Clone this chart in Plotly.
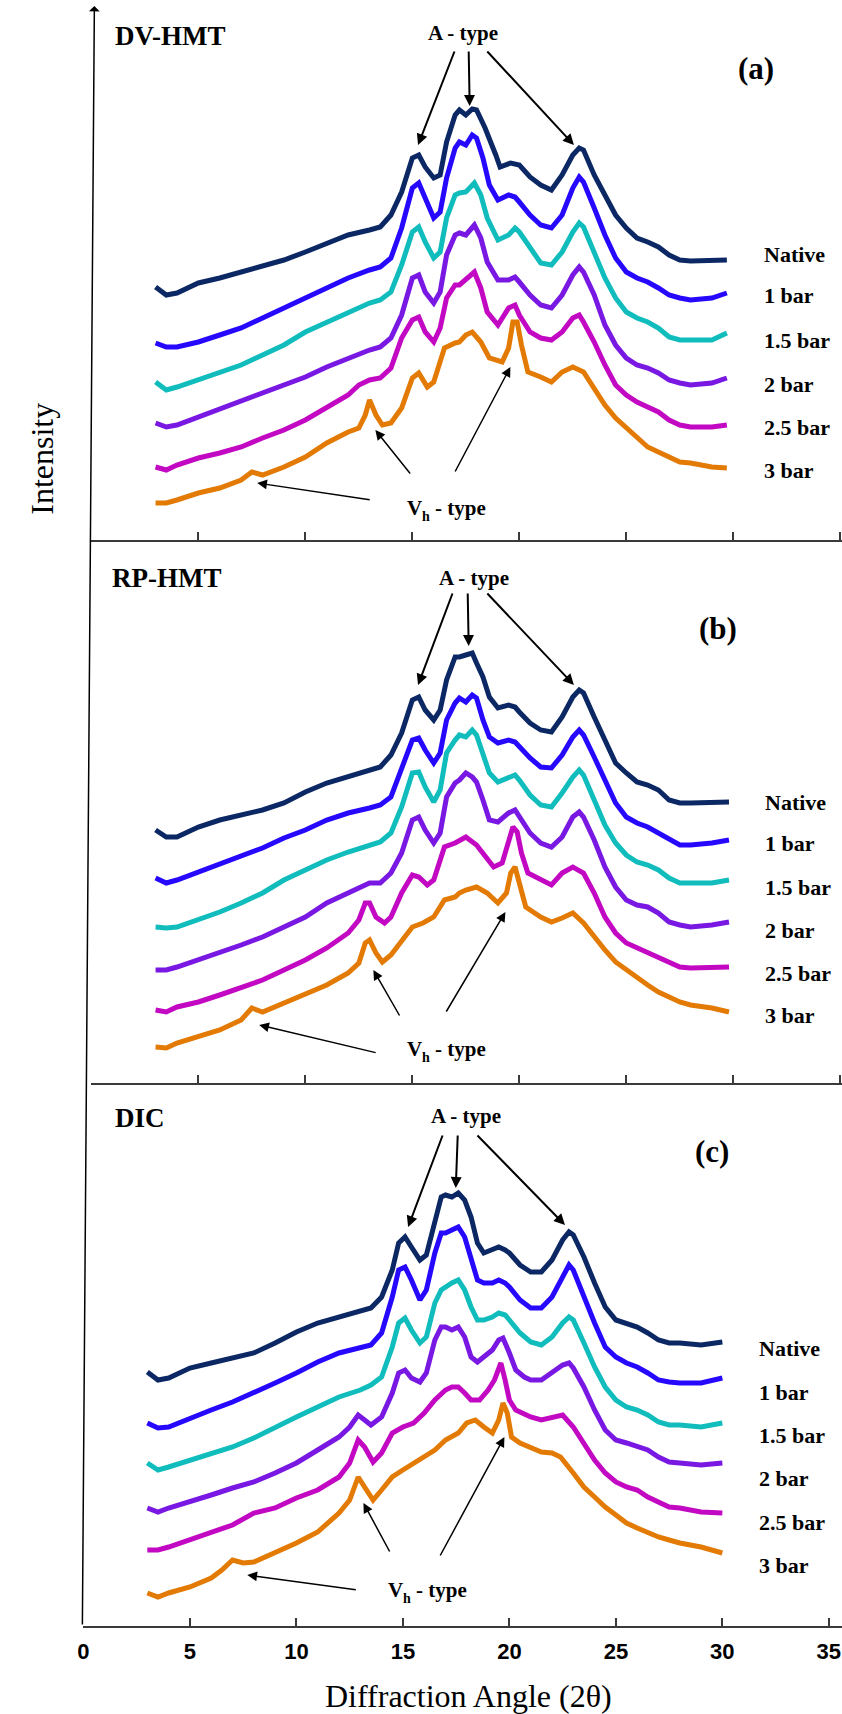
import plotly.graph_objects as go

W, H = 842, 1714

# ---------------- data (2theta, offset intensity a.u.) ----------------
LABELS = ["Native", "1 bar", "1.5 bar", "2 bar", "2.5 bar", "3 bar"]
COLORS = ["#0c2864", "#2608ff", "#10bcbc", "#7818e2", "#c208c2", "#e27a04"]

# Panel (a) DV-HMT
a_native = [(3,253),(3.5,245),(4,247),(5,257),(6,262),(7,268),(8,273),(9,280),(10,288),(11,297),(12,305),(13,310),(13.5,313),(14,325),(14.5,348),(15,382),(15.3,385),(15.6,373),(16,362),(16.3,365),(16.6,398),(17,425),(17.2,430),(17.5,425),(17.8,431),(18,430),(18.4,412),(18.9,385),(19.1,373),(19.6,377),(20,375),(20.5,363),(21,355),(21.5,350),(22,365),(22.5,385),(22.8,392),(23,390),(23.5,365),(24,345),(24.5,325),(25,312),(25.5,302),(26,298),(26.5,293),(27,285),(27.5,280),(28,279),(29,279),(29.7,280)]
a_1bar = [(3,197),(3.5,193),(4,193),(5,198),(6,205),(7,212),(8,222),(9,232),(10,242),(11,252),(12,262),(13,270),(13.5,273),(14,282),(14.5,312),(15,352),(15.3,357),(15.6,342),(16,322),(16.3,328),(16.6,362),(17,392),(17.2,398),(17.5,395),(17.8,405),(18,402),(18.3,382),(18.6,355),(19,340),(19.5,345),(19.8,343),(20,338),(20.5,325),(21,315),(21.5,312),(22,325),(22.5,352),(22.8,363),(23,358),(23.5,332),(24,305),(24.5,282),(25,268),(25.5,262),(26,258),(26.5,252),(27,245),(27.5,242),(28,240),(29,242),(29.7,247)]
a_15bar = [(3,158),(3.5,150),(4,153),(5,160),(6,167),(7,175),(8,185),(9,195),(10,208),(11,218),(12,228),(13,237),(13.5,240),(14,248),(14.5,275),(15,308),(15.3,313),(15.6,298),(16,282),(16.3,288),(16.6,322),(17,345),(17.2,347),(17.5,348),(17.9,357),(18.2,345),(18.5,322),(19,300),(19.5,305),(19.8,312),(20,308),(20.5,292),(21,277),(21.5,275),(22,288),(22.5,308),(22.8,317),(23,313),(23.5,288),(24,262),(24.5,242),(25,228),(25.5,222),(26,218),(26.5,212),(27,203),(27.5,200),(28,200),(29,200),(29.7,207)]
a_2bar = [(3,117),(3.5,113),(4,115),(5,123),(6,130),(7,138),(8,147),(9,155),(10,163),(11,173),(12,182),(13,190),(13.5,193),(14,202),(14.5,225),(15,262),(15.3,265),(15.6,248),(16,237),(16.3,248),(16.6,285),(17,305),(17.2,307),(17.5,305),(17.9,315),(18.2,302),(18.5,278),(19,260),(19.5,260),(19.8,263),(20,258),(20.5,245),(21,235),(21.5,232),(22,245),(22.5,265),(22.8,273),(23,268),(23.5,245),(24,215),(24.5,195),(25,182),(25.5,175),(26,172),(26.5,167),(27,160),(27.5,157),(28,155),(29,157),(29.7,162)]
a_25bar = [(3,73),(3.5,70),(4,75),(5,82),(6,87),(7,93),(8,102),(9,110),(10,120),(11,133),(12,145),(12.5,155),(13,160),(13.5,162),(14,172),(14.5,202),(15,220),(15.3,223),(15.6,208),(16,198),(16.3,212),(16.6,242),(17,255),(17.2,255),(17.5,260),(17.9,268),(18.2,252),(18.5,228),(19,215),(19.5,232),(19.8,235),(20,225),(20.5,208),(21,202),(21.5,200),(22,208),(22.5,222),(22.8,225),(23,218),(23.5,198),(24,175),(24.5,155),(25,145),(25.5,138),(26,133),(26.5,128),(27,120),(27.5,115),(28,113),(29,113),(29.7,115)]
a_3bar = [(3,37),(3.5,37),(4,40),(5,47),(6,52),(7,60),(7.5,68),(8,65),(9,73),(10,83),(11,97),(12,108),(12.5,112),(12.8,125),(13,140),(13.3,125),(13.6,115),(14,117),(14.5,132),(15,162),(15.3,167),(15.7,153),(16,158),(16.5,192),(17,197),(17.2,198),(17.5,205),(17.8,208),(18.2,198),(18.6,182),(19.2,178),(19.5,192),(19.7,218),(19.9,218),(20.1,195),(20.4,168),(21,163),(21.5,158),(22,168),(22.5,173),(23,168),(23.5,152),(24,135),(24.5,122),(25,112),(25.5,102),(26,93),(26.5,88),(27,83),(27.5,78),(28,77),(29,73),(29.7,72)]

# Panel (b) RP-HMT
b_native = [(3,264),(3.5,257),(4,257),(5,267),(6,274),(7,279),(8,284),(9,291),(10,302),(11,311),(12,317),(13,324),(13.5,327),(14,339),(14.5,361),(15,394),(15.3,397),(15.6,384),(16,374),(16.3,384),(16.6,414),(17,437),(17.2,437),(17.5,439),(17.8,441),(18,431),(18.3,417),(18.6,397),(19,386),(19.5,389),(19.8,387),(20,382),(20.5,371),(21,364),(21.5,362),(22,377),(22.5,397),(22.8,404),(23,401),(23.5,377),(24,354),(24.5,331),(25,321),(25.5,312),(26,309),(26.5,304),(27,294),(27.5,291),(28,291),(29,291),(29.8,292)]
b_1bar = [(3,216),(3.5,211),(4,214),(5,222),(6,229),(7,237),(8,246),(9,256),(10,264),(11,274),(12,281),(13,286),(13.5,289),(14,297),(14.5,324),(15,354),(15.3,356),(15.6,344),(16,331),(16.3,341),(16.6,374),(17,391),(17.2,396),(17.5,392),(17.8,399),(18,396),(18.3,374),(18.6,357),(19,351),(19.5,354),(19.8,352),(20,347),(20.5,336),(21,327),(21.5,326),(22,339),(22.5,357),(22.8,364),(23,359),(23.5,337),(24,314),(24.5,291),(25,277),(25.5,271),(26,267),(26.5,261),(27,254),(27.5,249),(28,249),(29,251),(29.8,254)]
b_15bar = [(3,167),(3.5,166),(4,167),(5,174),(6,182),(7,191),(8,201),(9,214),(10,224),(11,234),(12,242),(13,249),(13.5,252),(14,261),(14.5,287),(15,321),(15.3,322),(15.6,307),(16,292),(16.3,304),(16.6,341),(17,354),(17.2,359),(17.5,357),(17.8,364),(18,359),(18.3,341),(18.6,321),(19,312),(19.5,316),(19.8,319),(20,314),(20.5,299),(21,289),(21.5,287),(22,301),(22.5,317),(22.8,324),(23,319),(23.5,294),(24,269),(24.5,251),(25,239),(25.5,232),(26,229),(26.5,224),(27,216),(27.5,211),(28,211),(29,211),(29.8,214)]
b_2bar = [(3,124),(3.5,124),(4,127),(5,134),(6,141),(7,149),(8,157),(9,167),(10,177),(11,191),(12,201),(12.5,207),(13,211),(13.5,211),(14,221),(14.5,241),(15,274),(15.3,277),(15.6,264),(16,251),(16.3,261),(16.6,297),(17,311),(17.2,314),(17.5,321),(17.8,317),(18,312),(18.3,294),(18.6,274),(19,272),(19.5,281),(19.8,284),(20,277),(20.5,261),(21,251),(21.5,247),(22,257),(22.5,277),(22.8,282),(23,277),(23.5,254),(24,227),(24.5,207),(25,194),(25.5,189),(26,187),(26.5,181),(27,172),(27.5,169),(28,167),(29,169),(29.8,172)]
b_25bar = [(3,84),(3.5,82),(4,87),(5,92),(6,99),(7,107),(8,114),(9,124),(10,134),(11,146),(12,161),(12.5,174),(12.8,191),(13,191),(13.3,177),(13.7,171),(14,177),(14.5,201),(15,219),(15.3,217),(15.7,209),(16,214),(16.5,247),(17,251),(17.2,254),(17.5,257),(18,249),(18.5,234),(18.8,227),(19.2,231),(19.5,254),(19.7,267),(19.9,262),(20.1,241),(20.4,221),(21,214),(21.5,209),(22,221),(22.5,227),(23,221),(23.5,201),(24,177),(24.5,161),(25,151),(25.5,146),(26,142),(26.5,137),(27,131),(27.5,127),(28,126),(29,126),(29.8,127)]
b_3bar = [(3,47),(3.5,46),(4,51),(5,57),(6,64),(7,74),(7.5,86),(8,82),(9,91),(10,99),(11,109),(12,121),(12.5,131),(12.8,151),(13,154),(13.3,141),(13.6,132),(14,139),(14.5,154),(15,167),(15.5,171),(16,177),(16.5,194),(17,197),(17.2,201),(17.5,204),(18,207),(18.5,201),(19,191),(19.4,201),(19.6,221),(19.8,227),(20,211),(20.3,187),(21,177),(21.5,172),(22,176),(22.5,181),(23,171),(23.5,157),(24,144),(24.5,132),(25,124),(25.5,116),(26,109),(26.5,102),(27,97),(27.5,92),(28,89),(29,86),(29.8,82)]

# Panel (c) DIC
c_native = [(3,278),(3.5,270),(4,272),(5,282),(6,287),(7,292),(8,297),(9,307),(10,318),(11,327),(12,333),(13,338),(13.5,342),(14,353),(14.5,380),(14.8,407),(15.1,413),(15.4,403),(15.8,390),(16.1,395),(16.5,430),(16.8,453),(17,455),(17.3,453),(17.6,457),(17.9,450),(18.2,433),(18.5,407),(18.8,397),(19.2,400),(19.5,403),(19.8,400),(20,397),(20.5,385),(21,378),(21.5,378),(22,390),(22.5,410),(22.8,418),(23,415),(23.5,393),(24,367),(24.5,343),(25,330),(25.5,327),(26,323),(26.5,317),(27,310),(27.5,307),(28,307),(29,305),(30,308)]
c_1bar = [(3,227),(3.5,222),(4,223),(5,232),(6,240),(7,248),(8,257),(9,267),(10,277),(11,288),(12,297),(13,302),(13.5,305),(14,317),(14.5,353),(14.8,380),(15.1,383),(15.4,370),(15.8,350),(16.1,360),(16.5,397),(16.8,417),(17,417),(17.3,420),(17.6,423),(17.9,413),(18.2,393),(18.5,370),(18.8,367),(19.2,367),(19.5,370),(19.8,367),(20,363),(20.5,350),(21,342),(21.5,342),(22,353),(22.5,373),(22.8,385),(23,380),(23.5,353),(24,327),(24.5,303),(25,293),(25.5,287),(26,283),(26.5,277),(27,270),(27.5,268),(28,267),(29,267),(30,272)]
c_15bar = [(3,187),(3.5,180),(4,183),(5,190),(6,197),(7,203),(8,212),(9,223),(10,233),(11,243),(12,253),(13,260),(13.5,265),(14,273),(14.5,303),(14.8,327),(15.1,332),(15.4,320),(15.8,307),(16.1,313),(16.5,347),(16.8,360),(17,363),(17.3,367),(17.6,370),(17.9,360),(18.2,343),(18.5,330),(18.8,330),(19.2,333),(19.5,337),(19.8,335),(20,330),(20.5,317),(21,308),(21.5,305),(22,313),(22.5,327),(22.8,333),(23,330),(23.5,307),(24,283),(24.5,263),(25,250),(25.5,243),(26,240),(26.5,235),(27,228),(27.5,225),(28,225),(29,223),(30,227)]
c_2bar = [(3,142),(3.5,138),(4,142),(5,148),(6,155),(7,162),(8,168),(9,177),(10,187),(11,200),(12,213),(12.5,223),(12.9,235),(13.2,230),(13.5,225),(14,233),(14.5,257),(14.8,277),(15.1,280),(15.4,272),(15.8,268),(16.1,277),(16.5,310),(16.8,323),(17,323),(17.3,320),(17.6,323),(17.9,313),(18.2,293),(18.5,288),(18.8,293),(19.2,300),(19.5,310),(19.7,312),(20,297),(20.3,280),(20.7,273),(21,270),(21.5,270),(22,277),(22.5,285),(22.8,287),(23,282),(23.5,263),(24,240),(24.5,220),(25,210),(25.5,207),(26,203),(26.5,200),(27,193),(27.5,188),(28,187),(29,185),(30,187)]
c_25bar = [(3,100),(3.5,100),(4,103),(5,110),(6,118),(7,125),(8,137),(9,142),(10,152),(11,160),(12,173),(12.5,187),(12.9,210),(13.2,203),(13.6,188),(14,197),(14.5,217),(15,223),(15.5,227),(16,237),(16.5,250),(17,260),(17.3,263),(17.6,263),(17.9,257),(18.2,250),(18.6,250),(19,260),(19.3,270),(19.6,287),(19.8,270),(20,250),(20.3,240),(21,233),(21.5,230),(22,232),(22.5,235),(23,223),(23.5,207),(24,190),(24.5,177),(25,168),(25.5,163),(26,160),(26.5,153),(27,148),(27.5,143),(28,142),(29,138),(30,137)]
c_3bar = [(3,57),(3.5,53),(4,57),(5,63),(6,72),(6.5,80),(7,90),(7.5,87),(8,88),(9,97),(10,107),(11,118),(12,137),(12.5,150),(12.9,173),(13.2,163),(13.6,150),(14,160),(14.5,173),(15,180),(15.5,187),(16,193),(16.5,200),(17,210),(17.3,213),(17.6,217),(18,227),(18.4,230),(18.8,223),(19.2,217),(19.5,230),(19.7,247),(19.9,237),(20.1,213),(20.5,207),(21,203),(21.5,198),(22,197),(22.4,193),(23,177),(23.5,163),(24,153),(24.5,143),(25,135),(25.5,127),(26,122),(26.5,117),(27,113),(27.5,110),(28,107),(29,103),(30,97)]

PANELS = [
    ("a", "DV-HMT", [a_native, a_1bar, a_15bar, a_2bar, a_25bar, a_3bar]),
    ("b", "RP-HMT", [b_native, b_1bar, b_15bar, b_2bar, b_25bar, b_3bar]),
    ("c", "DIC", [c_native, c_1bar, c_15bar, c_2bar, c_25bar, c_3bar]),
]
X_TICKS = [0, 5, 10, 15, 20, 25, 30, 35]

# ---------------- layout geometry (pixels) ----------------
GEOM = {
    "a": dict(top=0, bot=540, x0=86, k=21.55, base=0),
    "b": dict(top=540, bot=1083, x0=86, k=21.55, base=11),
    "c": dict(top=1083, bot=1626, x0=78, k=21.45, base=24),
}
AX = {"a": ("x3", "y3"), "b": ("x2", "y2"), "c": ("x", "y")}

def px(x):
    return x / W

def py(y):
    return 1 - y / H

fig = go.Figure()
for key, title, curves in PANELS:
    xa, ya = AX[key]
    for lab, col, pts in zip(LABELS, COLORS, curves):
        fig.add_trace(go.Scatter(
            x=[p[0] for p in pts], y=[p[1] for p in pts], mode="lines",
            name=lab, line=dict(color=col, width=5),
            xaxis=xa, yaxis=ya, showlegend=False, hoverinfo="skip"))

layout = dict(width=W, height=H, margin=dict(l=0, r=0, t=0, b=0),
              paper_bgcolor="white", plot_bgcolor="rgba(0,0,0,0)", showlegend=False)
for key in ["a", "b", "c"]:
    g = GEOM[key]
    xa, ya = AX[key]
    xname = "xaxis" if xa == "x" else "xaxis" + xa[1:]
    yname = "yaxis" if ya == "y" else "yaxis" + ya[1:]
    xmax = (W - g["x0"]) / g["k"]
    bottom = key == "c"
    layout[xname] = dict(
        domain=[px(g["x0"]), 1], range=[0, xmax], anchor=ya,
        showline=True, linecolor="#3a3a3a", linewidth=2,
        ticks="inside", ticklen=8, tickwidth=1.5, tickcolor="#3a3a3a",
        tickvals=X_TICKS, showticklabels=bottom, showgrid=False, zeroline=False,
        tickfont=dict(family="Liberation Sans Narrow, Liberation Sans, Arial", size=22, color="black", weight="bold"),
        ticklabelstandoff=5,
    )
    h = g["bot"] - g["top"]
    layout[yname] = dict(domain=[py(g["bot"]), py(g["top"])], range=[g["base"], g["base"] + h],
                         visible=False, anchor=xa)
fig.update_layout(**layout)

SERIF = "Liberation Serif, Times New Roman, serif"
ann = []

def text(t, x, y, size, xanchor="left", bold=True, angle=0):
    ann.append(dict(text=t, x=px(x), y=py(y), xref="paper", yref="paper",
                    xanchor=xanchor, yanchor="middle", showarrow=False, textangle=angle,
                    font=dict(family=SERIF, size=size, color="black",
                              weight="bold" if bold else "normal")))

def arrow(x0, y0, x1, y1, width=2, head=2, size=1.0):
    ann.append(dict(text="", x=px(x1), y=py(y1), xref="paper", yref="paper",
                    ax=x0 - x1, ay=y0 - y1, axref="pixel", ayref="pixel",
                    showarrow=True, arrowhead=head, arrowsize=size, arrowwidth=width,
                    arrowcolor="black", standoff=0))

TITLE_POS = {"a": (108, 36), "b": (105, 578), "c": (108, 1118)}
TAG_POS = {"a": (755, 69), "b": (717, 628), "c": (711, 1151)}
ATYPE_POS = {"a": (460, 33), "b": (471, 578), "c": (463, 1116)}
LAB_POS = {"a": (761, [254, 296, 340, 384, 428, 470]),
           "b": (762, [802, 843, 887, 930, 973, 1015]),
           "c": (756, [1348, 1392, 1435, 1478, 1522, 1565])}
for key, title, _ in PANELS:
    text(title, *TITLE_POS[key], 27)
    text("(" + key + ")", *TAG_POS[key], 31, xanchor="center")
    text("A - type", *ATYPE_POS[key], 21, xanchor="center")
    lx, ys = LAB_POS[key]
    for lab, yy in zip(LABELS, ys):
        text(lab, lx, yy, 22)

A_ARROWS = {
    "a": [((452, 50), (415, 145)), ((466, 50), (467, 106)), ((484, 50), (572, 145))],
    "b": [((450, 592), (415, 685)), ((465, 592), (466, 646)), ((484, 592), (572, 685))],
    "c": [((440, 1134), (405, 1227)), ((455, 1134), (453, 1188)), ((474, 1134), (563, 1225))],
}
for key in A_ARROWS:
    for (s, t) in A_ARROWS[key]:
        arrow(s[0], s[1], t[0], t[1], width=2, head=2, size=1.1)

# V_h - type labels: "V", subscript "h", "- type"
VH_POS = {"a": (402, 508), "b": (402, 1049), "c": (383, 1590)}
VH_ARROWS = {
    "a": [((367, 500), (253, 483)), ((408, 475), (372, 430)), ((452, 473), (508, 367))],
    "b": [((373, 1053), (255, 1025)), ((397, 1017), (370, 970)), ((443, 1013), (503, 912))],
    "c": [((353, 1590), (243, 1575)), ((387, 1553), (360, 1503)), ((437, 1557), (502, 1437))],
}
for key in VH_POS:
    vx, vy = VH_POS[key]
    text("V", vx, vy, 21)
    text("h", vx + 15, vy + 8, 14)
    text("- type", vx + 28, vy, 21)
    for (s, t) in VH_ARROWS[key]:
        arrow(s[0], s[1], t[0], t[1], width=1.5, head=2, size=1.3)

# y axis arrow (slanted like the original scan)
arrow(77, 1626, 89, 6, width=1.5, head=1, size=1.2)

text("Intensity", 36, 459, 32, xanchor="center", bold=False, angle=-90)
text("Diffraction Angle (2\u03b8)", 466, 1696, 32, xanchor="center", bold=False)

fig.update_layout(annotations=ann)
fig.write_html("out.html")
